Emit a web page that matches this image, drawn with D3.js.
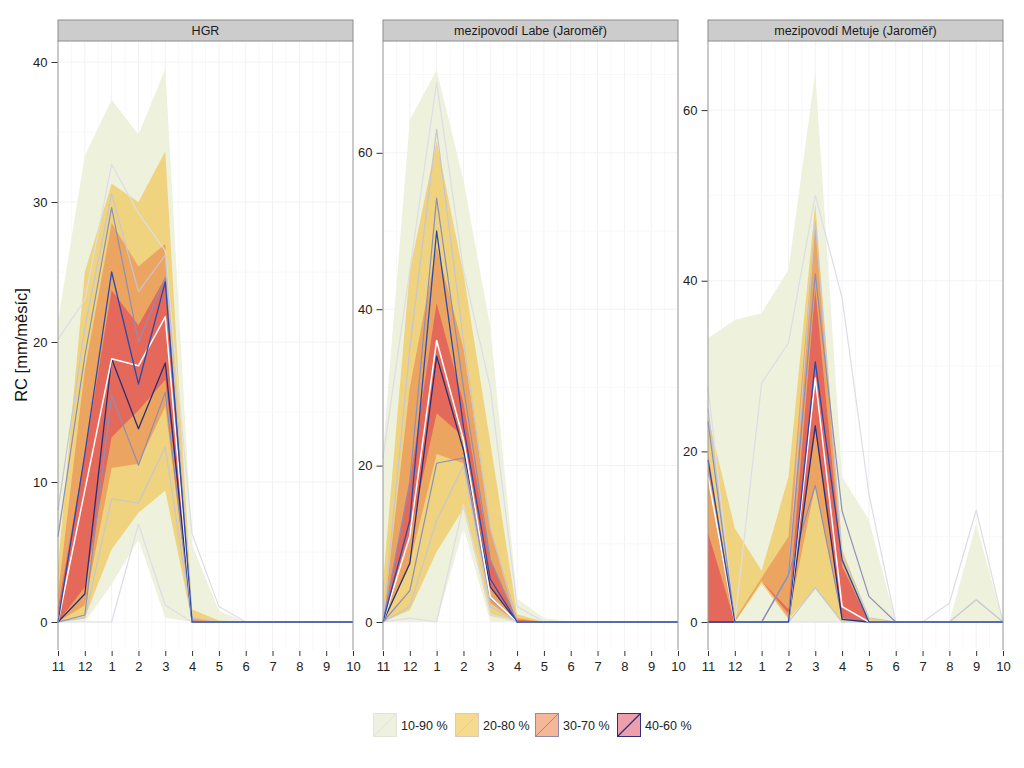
<!DOCTYPE html>
<html><head><meta charset="utf-8">
<script src="https://cdn.jsdelivr.net/npm/d3@7"></script>
<style>
body{margin:0;background:#fff;}
text{font-family:"Liberation Sans",Arial,Helvetica,sans-serif;}
</style></head>
<body><svg id="c" width="1024" height="768"></svg>
<script>
const months = ["11","12","1","2","3","4","5","6","7","8","9","10"];
const panelNames = ["HGR","mezipovodí Labe (Jaroměř)","mezipovodí Metuje (Jaroměř)"];
const yTicks1 = [0,10,20,30,40];
const yTicks2 = [0,20,40,60];
const yTicks3 = [0,20,40,60];
const legendLabels = ["10-90 %","20-80 %","30-70 %","40-60 %"];
const yLabel = "RC [mm/měsíc]";

// HGR ribbons (quantiles)
const hgrQ10 = [0,0,2.7,5.9,0.3,0,0,0,0,0,0,0];
const hgrQ20 = [0,0.3,5.2,7.8,9.4,0,0,0,0,0,0,0];
const hgrQ30 = [0,1.2,11,11.3,15.4,0,0,0,0,0,0,0];
const hgrQ40 = [0,2.5,13.2,15.1,17.3,0,0,0,0,0,0,0];
const hgrQ60 = [1,12,23.7,21.2,24.6,0.1,0,0,0,0,0,0];
const hgrQ70 = [2,18,28.5,25.4,27,0.3,0,0,0,0,0,0];
const hgrQ80 = [4,25,31.3,30,33.6,0.9,0.1,0,0,0,0,0];
const hgrQ90 = [21.5,33.3,37.3,34.8,39.5,5.5,0.8,0,0,0,0,0];
// HGR lines
const hgrL10 = [0,0,0,7,1.2,0,0,0,0,0,0,0];
const hgrL20 = [0,0.3,8.8,8.5,12.5,0,0,0,0,0,0,0];
const hgrL30 = [0,0.5,16.2,11.2,16.4,0,0,0,0,0,0,0];
const hgrL40 = [0,2,18.8,13.8,18.5,0,0,0,0,0,0,0];
const hgrL50 = [0,9.4,18.8,18.3,21.8,0,0,0,0,0,0,0];
const hgrL60 = [0,12,25,17,24.3,0,0,0,0,0,0,0];
const hgrL70 = [6.1,19,29.6,20,24.6,0,0,0,0,0,0,0];
const hgrL80 = [8,21,30.6,23.6,26.2,0.3,0,0,0,0,0,0];
const hgrL90 = [20.2,23,32.7,29.2,26.5,6.3,1.1,0,0,0,0,0];

// Labe ribbons
const labQ10 = [0,0,0,12,0,0,0,0,0,0,0,0];
const labQ20 = [0,1.5,9,14.5,0.8,0,0,0,0,0,0,0];
const labQ30 = [0,7.5,21.5,20.3,2.4,0,0,0,0,0,0,0];
const labQ40 = [0,10.9,26.7,23.7,4.5,0,0,0,0,0,0,0];
const labQ60 = [0,18,40.8,28,8,0.3,0,0,0,0,0,0];
const labQ70 = [0,30,48,35,12,0.5,0,0,0,0,0,0];
const labQ80 = [5,45,61.5,44.6,23,1,0,0,0,0,0,0];
const labQ90 = [22,64.2,70.6,56.5,37.7,3,0.5,0,0,0,0,0];
// Labe lines
const labL10 = [0,0.5,0,15,1,0,0,0,0,0,0,0];
const labL20 = [0,2,13,20,2,0,0,0,0,0,0,0];
const labL30 = [0,4,20.3,21,3,0,0,0,0,0,0,0];
const labL40 = [0,7.5,34,22,4.5,0,0,0,0,0,0,0];
const labL50 = [0,11,36,23.3,3.2,0,0,0,0,0,0,0];
const labL60 = [0,13,50,25,5.5,0,0,0,0,0,0,0];
const labL70 = [0,18,54.2,30,8,0,0,0,0,0,0,0];
const labL80 = [0,35,63,36,12,0,0,0,0,0,0,0];
const labL90 = [21,45,69,45,30,2,0,0,0,0,0,0];

// Metuje ribbons
const metQ10 = [0,0,0,0,0,0,0,0,0,0,0,0];
const metQ20 = [0,0,4.5,0.3,4,0,0,0,0,0,0,0];
const metQ30 = [0,0,4.8,0.5,16,0.3,0,0,0,0,0,0];
const metQ40 = [0,0,4.8,1,22.5,0.5,0,0,0,0,0,0];
const metQ60 = [10.5,0,4.8,1.5,39,6.5,0,0,0,0,0,0];
const metQ70 = [20,0.3,5.2,10,47,7.5,0,0,0,0,0,0];
const metQ80 = [24,11,6,17,49,8.5,0.5,0,0,0,0,0];
const metQ90 = [33.3,35.4,36.2,41.3,64.4,17,12,0,0,0,11.5,0];
// Metuje lines
const metL10 = [0,0,0,0,0,0,0,0,0,0,0,0];
const metL20 = [0,0,0,0,4,0,0,0,0,0,0,0];
const metL30 = [0,0,0,5.5,16,0.5,0,0,0,0,0,0];
const metL40 = [0,0,0,0,23,0.3,0,0,0,0,0,0];
const metL50 = [17,0,0,0,28.6,1.8,0,0,0,0,0,0];
const metL60 = [19,0,0,0,30.5,7.3,0,0,0,0,0,0];
const metL70 = [23.5,0,0,5.5,40.8,13,3,0,0,0,0,0];
const metL80 = [25,0,0,5.5,47,8,0.5,0,0,0,2.6,0];
const metL90 = [27.5,0,28,32.7,50,38,15,0,0,2.2,13.1,0];

const panels = [
  {name:panelNames[0], dom:[-2.0,41.5], ticks:yTicks1,
   q:[hgrQ10,hgrQ20,hgrQ30,hgrQ40,hgrQ60,hgrQ70,hgrQ80,hgrQ90],
   l:[hgrL10,hgrL20,hgrL30,hgrL40,hgrL50,hgrL60,hgrL70,hgrL80,hgrL90]},
  {name:panelNames[1], dom:[-3.58,74.3], ticks:yTicks2,
   q:[labQ10,labQ20,labQ30,labQ40,labQ60,labQ70,labQ80,labQ90],
   l:[labL10,labL20,labL30,labL40,labL50,labL60,labL70,labL80,labL90]},
  {name:panelNames[2], dom:[-3.28,68.1], ticks:yTicks3,
   q:[metQ10,metQ20,metQ30,metQ40,metQ60,metQ70,metQ80,metQ90],
   l:[metL10,metL20,metL30,metL40,metL50,metL60,metL70,metL80,metL90]}
];

const bandFill = ["#eef1dc","#efd37e","#eca461","#e4695b"];
const lineCol = {outer:"#dcdde6", p2:"#c6c6d3", p3:"#8e8fb6", p4:"#27307a", med:"#ffffff", blue:"#2d4aa8"};
const legFill = ["#eef0e0","#f6da90","#f4b898","#ee9fac"];
const legStroke = ["#e2e4d8","#d6cbbd","#9388ad","#2a2f85"];

const svg = d3.select("#c");
const lefts = [58,383,708], W = 295, topY = 41, botY = 650;

panels.forEach((p,i)=>{
  const x0 = lefts[i];
  const x = d3.scalePoint().domain(months).range([x0,x0+W]);
  const y = d3.scaleLinear().domain(p.dom).range([botY,topY]);
  const g = svg.append("g");
  // grid
  const minorX = months.slice(0,-1).map((m,k)=>(x(m)+x(months[k+1]))/2);
  g.selectAll(".vmin").data(minorX).join("line")
    .attr("x1",d=>d).attr("x2",d=>d).attr("y1",topY).attr("y2",botY)
    .attr("stroke","#f8f8f8").attr("stroke-width",1);
  g.selectAll(".vmaj").data(months).join("line")
    .attr("x1",d=>x(d)).attr("x2",d=>x(d)).attr("y1",topY).attr("y2",botY)
    .attr("stroke","#f2f2f2").attr("stroke-width",1);
  const step = p.ticks[1]-p.ticks[0];
  const minorY = d3.range(p.ticks[0]-step/2, p.dom[1], step).filter(v=>v>p.dom[0]);
  g.selectAll(".hmin").data(minorY).join("line")
    .attr("x1",x0).attr("x2",x0+W).attr("y1",d=>y(d)).attr("y2",d=>y(d))
    .attr("stroke","#f8f8f8");
  g.selectAll(".hmaj").data(p.ticks).join("line")
    .attr("x1",x0).attr("x2",x0+W).attr("y1",d=>y(d)).attr("y2",d=>y(d))
    .attr("stroke","#f2f2f2");
  // ribbons
  const pairs = [[0,7],[1,6],[2,5],[3,4]];
  pairs.forEach(([lo,hi],k)=>{
    const area = d3.area().x((d,j)=>x(months[j])).y0((d,j)=>y(p.q[lo][j])).y1((d,j)=>y(p.q[hi][j]));
    g.append("path").attr("d",area(months)).attr("fill",bandFill[k]);
  });
  // lines
  const ln = arr => d3.line().x((d,j)=>x(months[j])).y((d,j)=>y(arr[j]))(months);
  const draw = (arr,col,w)=>g.append("path").attr("d",ln(arr)).attr("fill","none")
      .attr("stroke",col).attr("stroke-width",w).attr("stroke-linejoin","round");
  draw(p.l[0],lineCol.outer,1.2); draw(p.l[8],lineCol.outer,1.2);
  draw(p.l[1],lineCol.p2,1.2); draw(p.l[7],lineCol.p2,1.2);
  draw(p.l[2],lineCol.p3,1.2); draw(p.l[6],lineCol.p3,1.2);
  draw(p.l[3],lineCol.p4,1.3);
  draw(p.l[4],lineCol.med,1.5);
  draw(p.l[5],lineCol.blue,1.3);
  // borders
  g.append("line").attr("x1",x0).attr("x2",x0).attr("y1",topY).attr("y2",botY).attr("stroke","#9a9a9a");
  g.append("line").attr("x1",x0+W).attr("x2",x0+W).attr("y1",topY).attr("y2",botY).attr("stroke","#9a9a9a");
  // strip
  g.append("rect").attr("x",x0).attr("y",20).attr("width",W).attr("height",21)
    .attr("fill","#cccccc").attr("stroke","#8c8c8c").attr("stroke-width",1);
  g.append("text").attr("x",x0+W/2).attr("y",35).attr("text-anchor","middle")
    .attr("font-size",12.5).attr("fill","#1a1a1a").text(p.name);
  // axes
  const ya = g.append("g").attr("transform",`translate(${x0-0.5},0)`)
    .call(d3.axisLeft(y).tickValues(p.ticks).tickSize(6).tickPadding(4));
  ya.select(".domain").remove();
  ya.selectAll("line").attr("stroke","#333");
  ya.selectAll("text").attr("font-size",13).attr("fill","#222")
    .style("font-family","'Liberation Sans',Arial,sans-serif");
  const xa = g.append("g").attr("transform",`translate(0,${botY+1})`)
    .call(d3.axisBottom(x).tickSize(5).tickPadding(6));
  xa.select(".domain").remove();
  xa.selectAll("line").attr("stroke","#333");
  xa.selectAll("text").attr("font-size",13).attr("fill","#222")
    .style("font-family","'Liberation Sans',Arial,sans-serif");
});

svg.append("text").attr("transform","translate(27,345) rotate(-90)")
  .attr("text-anchor","middle").attr("font-size",16.5).attr("fill","#111").text(yLabel);

// legend
const legX = [373,455,535,617];
legendLabels.forEach((lab,k)=>{
  const g = svg.append("g").attr("transform",`translate(${legX[k]},713)`);
  g.append("rect").attr("x",0.5).attr("y",0.5).attr("width",23).attr("height",23)
    .attr("fill",legFill[k]).attr("stroke",legStroke[k]).attr("stroke-width",1);
  g.append("line").attr("x1",1).attr("y1",23).attr("x2",23).attr("y2",1)
    .attr("stroke",legStroke[k]).attr("stroke-width",k==3?1.3:1);
  g.append("text").attr("x",28).attr("y",17).attr("font-size",12.5).attr("fill","#222").text(lab);
});
</script></body></html>
